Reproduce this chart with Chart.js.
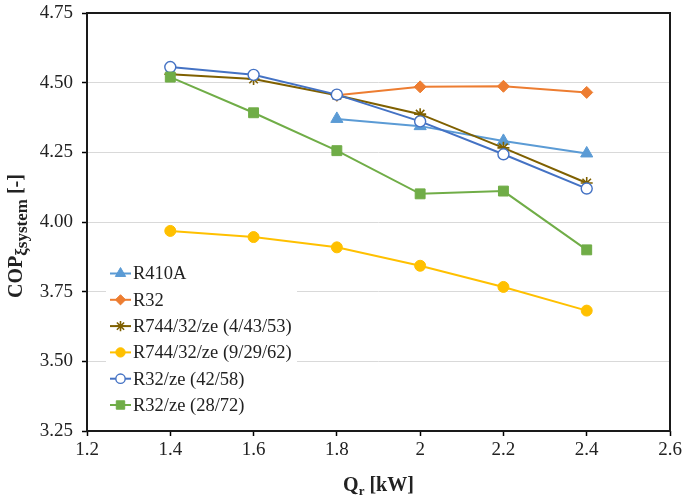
<!DOCTYPE html>
<html><head><meta charset="utf-8">
<script src="https://cdn.jsdelivr.net/npm/chart.js@4.4.0/dist/chart.umd.min.js"></script>
<style>html,body{margin:0;padding:0;background:#fff;}canvas{display:block}</style>
</head><body>
<canvas id="c" width="684" height="500"></canvas>
<script>
// ---- data ----
const xValues = [1.4, 1.6, 1.8, 2.0, 2.2, 2.4];
const seriesLabels = ["R410A", "R32", "R744/32/ze (4/43/53)", "R744/32/ze (9/29/62)", "R32/ze (42/58)", "R32/ze (28/72)"];
const r410a   = [null, null, 4.370, 4.344, 4.291, 4.246];
const r32     = [null, null, 4.455, 4.485, 4.487, 4.465];
const r744a   = [4.530, 4.513, 4.455, 4.387, 4.266, 4.140];
const r744b   = [3.968, 3.946, 3.909, 3.843, 3.767, 3.682];
const r32ze42 = [4.556, 4.528, 4.457, 4.361, 4.243, 4.120];
const r32ze28 = [4.520, 4.392, 4.256, 4.101, 4.111, 3.900];
const xTickLabels = ["1.2", "1.4", "1.6", "1.8", "2", "2.2", "2.4", "2.6"];
const yTickLabels = ["3.25", "3.50", "3.75", "4.00", "4.25", "4.50", "4.75"];

const FONT = "'Liberation Serif', 'Times New Roman', serif";
const TEXT = "#222";

function pts(arr) { return xValues.map((x, i) => ({x: x, y: arr[i]})); }

const styles = [
  {color: "#5B9BD5", fill: "#5B9BD5", pointStyle: "triangle", r: 7, bw: 1},
  {color: "#ED7D31", fill: "#ED7D31", pointStyle: "rectRot", r: 6, bw: 1},
  {color: "#7F6000", fill: "#7F6000", pointStyle: "star", r: 6, bw: 1.6},
  {color: "#FFC000", fill: "#FFC000", pointStyle: "circle", r: 5.5, bw: 1},
  {color: "#4472C4", fill: "#FFFFFF", pointStyle: "circle", r: 5.5, bw: 1.4},
  {color: "#70AD47", fill: "#70AD47", pointStyle: "rect", r: 7, bw: 1}
];
const allSeries = [r410a, r32, r744a, r744b, r32ze42, r32ze28];

const datasets = allSeries.map((s, i) => ({
  label: seriesLabels[i],
  data: pts(s),
  borderColor: styles[i].color,
  backgroundColor: styles[i].fill,
  borderWidth: 2,
  pointStyle: styles[i].pointStyle,
  pointRadius: styles[i].r,
  pointBorderWidth: styles[i].bw,
  pointBorderColor: styles[i].color,
  pointBackgroundColor: styles[i].fill,
  spanGaps: false,
  tension: 0,
  order: allSeries.length - i
}));

const framePlugin = {
  id: "frame",
  afterDraw(chart) {
    const ctx = chart.ctx, a = chart.chartArea;
    ctx.save();
    ctx.strokeStyle = "#1a1a1a";
    ctx.lineWidth = 2;
    ctx.strokeRect(a.left, a.top, a.right - a.left, a.bottom - a.top);

    // legend
    const lx = 106, ly = 259, lw = 191, lh = 160;
    ctx.fillStyle = "#fff";
    ctx.fillRect(lx, ly, lw, lh);
    const rowY0 = 273.5, rowH = 26.3;
    ctx.font = "18.5px " + FONT;
    ctx.textBaseline = "middle";
    ctx.textAlign = "left";
    datasets.forEach((d, i) => {
      const y = rowY0 + i * rowH;
      const st = styles[i];
      ctx.strokeStyle = st.color;
      ctx.lineWidth = 2;
      ctx.beginPath(); ctx.moveTo(110, y); ctx.lineTo(131, y); ctx.stroke();
      ctx.fillStyle = st.fill;
      ctx.strokeStyle = st.color;
      ctx.lineWidth = st.bw;
      Chart.helpers.drawPoint(ctx, {pointStyle: st.pointStyle, radius: st.r * 0.85, rotation: 0, borderWidth: st.bw}, 120.5, y);
      ctx.fillStyle = TEXT;
      ctx.fillText(d.label, 133, y + 1);
    });

    // x title: Q_r [kW]
    ctx.fillStyle = TEXT;
    ctx.textBaseline = "alphabetic";
    const big = "bold 20px " + FONT, small = "bold 13px " + FONT;
    ctx.font = big; const wQ = ctx.measureText("Q").width; const wRest = ctx.measureText(" [kW]").width;
    ctx.font = small; const wr = ctx.measureText("r").width;
    let x0 = (a.left + a.right) / 2 - (wQ + wr + wRest) / 2;
    const by = 491;
    ctx.font = big; ctx.fillText("Q", x0, by);
    ctx.font = small; ctx.fillText("r", x0 + wQ, by + 4);
    ctx.font = big; ctx.fillText(" [kW]", x0 + wQ + wr, by);

    // y title: COP_ξsystem [-]
    ctx.translate(22, 236);
    ctx.rotate(-Math.PI / 2);
    const smallY = "bold 17px " + FONT;
    ctx.font = big; const wC = ctx.measureText("COP").width; const wB = ctx.measureText(" [-]").width;
    ctx.font = smallY; const wS = ctx.measureText("ξsystem").width;
    let s0 = -(wC + wS + wB) / 2;
    ctx.font = big; ctx.fillText("COP", s0, 0);
    ctx.font = smallY; ctx.fillText("ξsystem", s0 + wC, 5);
    ctx.font = big; ctx.fillText(" [-]", s0 + wC + wS, 0);
    ctx.restore();
  }
};

new Chart(document.getElementById("c"), {
  type: "line",
  data: {datasets: datasets},
  options: {
    responsive: false,
    animation: false,
    devicePixelRatio: 1,
    layout: {padding: {left: 0, right: 14, top: 13, bottom: 0}},
    plugins: {legend: {display: false}, tooltip: {enabled: false}},
    scales: {
      x: {
        type: "linear",
        min: 1.2, max: 2.6,
        afterFit: s => { s.height = 69; s.paddingLeft = 0; s.paddingRight = 0; },
        afterBuildTicks: s => { s.ticks = xTickLabels.map(v => ({value: parseFloat(v)})); },
        ticks: {
          font: {family: FONT, size: 19}, color: TEXT, padding: 3,
          maxRotation: 0, autoSkip: false,
          callback: (v, i) => xTickLabels[i]
        },
        grid: {display: true, drawOnChartArea: false, drawTicks: true, tickLength: 5, tickColor: "#000", tickWidth: 1.5},
        border: {display: false}
      },
      y: {
        min: 3.25, max: 4.75,
        afterFit: s => { s.width = 87; s.paddingTop = 0; s.paddingBottom = 0; },
        afterBuildTicks: s => { s.ticks = yTickLabels.map(v => ({value: parseFloat(v)})); },
        ticks: {
          font: {family: FONT, size: 19}, color: TEXT, padding: 9,
          autoSkip: false,
          callback: (v, i) => yTickLabels[i]
        },
        grid: {color: "#d9d9d9", lineWidth: 1, drawTicks: true, tickLength: 5, tickColor: "#000", tickWidth: 1.5},
        border: {display: false}
      }
    }
  },
  plugins: [framePlugin]
});
</script>
</body></html>
